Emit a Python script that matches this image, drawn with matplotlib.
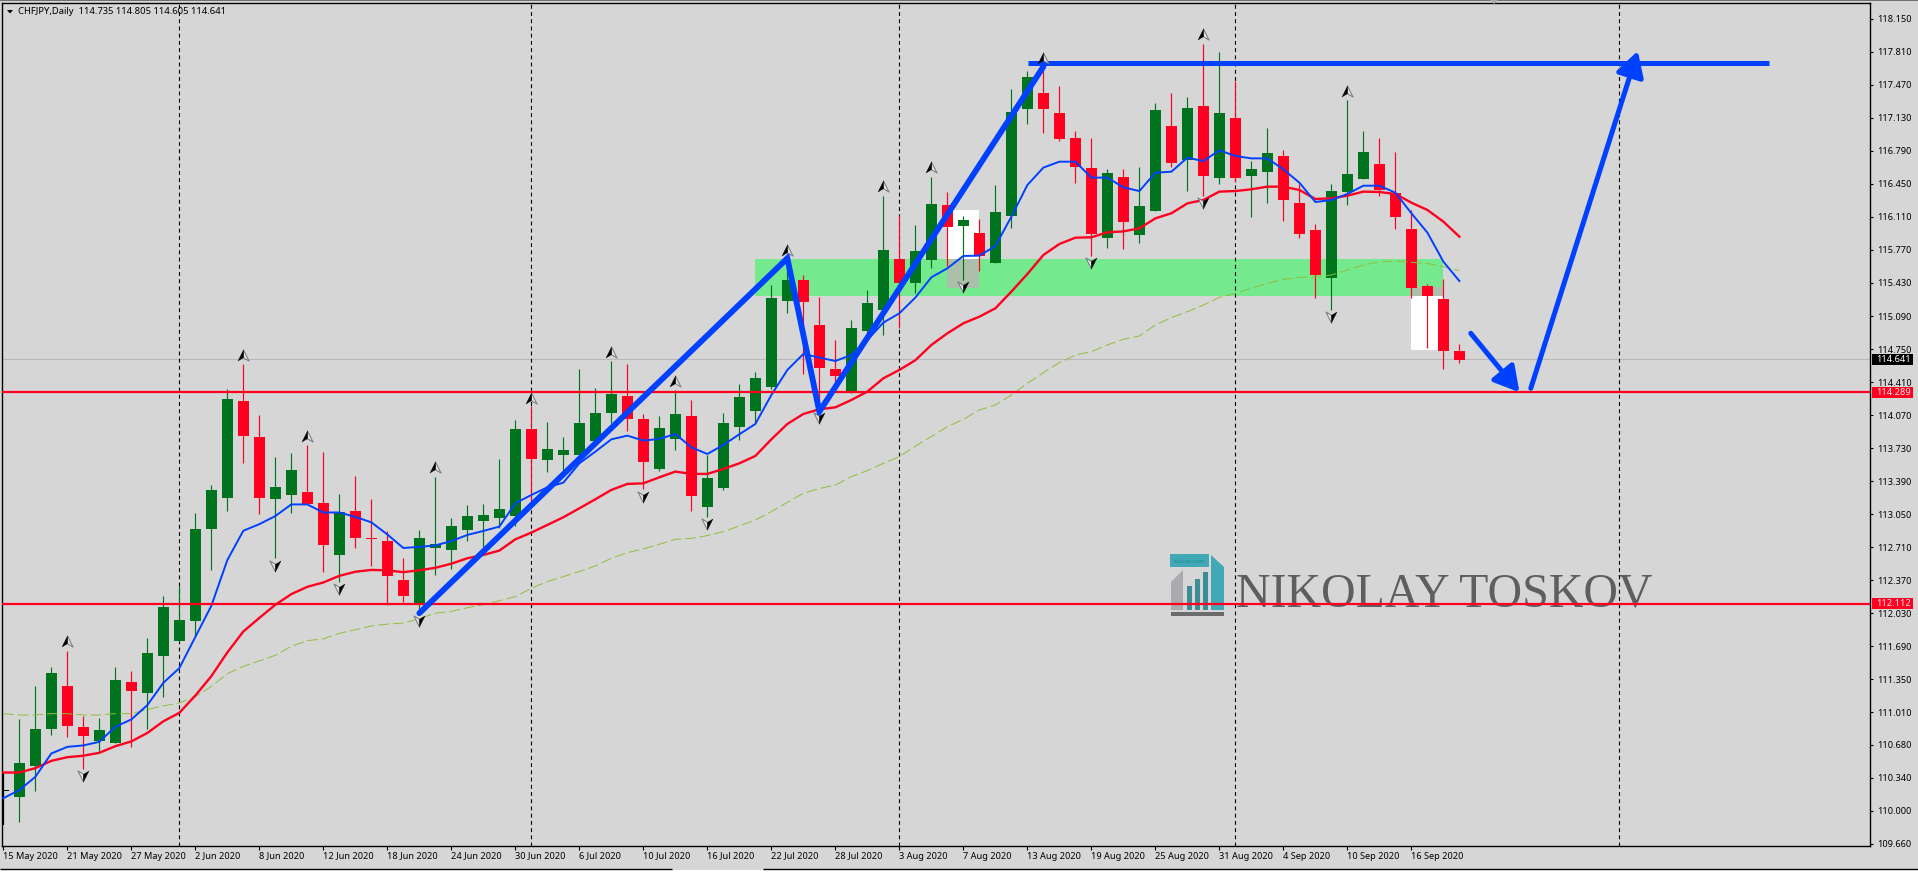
import matplotlib
matplotlib.use("Agg")
import matplotlib.pyplot as plt
from matplotlib.path import Path
from matplotlib.patches import Polygon, Rectangle

opens = [110.212, 110.143, 110.460, 110.844, 111.278, 110.863, 110.720, 110.697, 111.327, 111.214, 111.591, 111.741,
         111.949, 112.899, 113.219, 114.211, 113.849, 113.208, 113.249, 113.279, 113.166, 112.631, 113.083, 112.805,
         112.774, 112.371, 112.115, 112.703, 112.680, 112.888, 112.981, 113.012, 113.032, 113.928, 113.608, 113.660,
         113.660, 113.804, 114.092, 114.267, 114.030, 113.516, 113.825, 114.061, 113.125, 113.320, 113.948, 114.113,
         114.360, 115.245, 115.461, 114.998, 114.545, 114.301, 114.936, 115.152, 115.677, 115.430, 115.666, 116.232,
         116.016, 115.944, 115.635, 116.119, 117.220, 117.385, 117.179, 116.922, 116.613, 115.893, 116.520, 115.924,
         116.171, 117.045, 116.695, 117.251, 116.510, 117.128, 116.531, 116.572, 116.737, 116.253, 115.975, 115.481,
         116.366, 116.500, 116.654, 116.356, 115.985, 115.399, 115.265, 114.735]
highs = [110.400, 110.946, 111.285, 111.481, 111.647, 110.976, 110.957, 111.481, 111.440, 111.772, 112.205, 112.311,
         113.065, 113.355, 114.335, 114.591, 114.075, 113.641, 113.683, 113.758, 113.694, 113.261, 113.445, 113.208,
         112.876, 112.597, 112.887, 113.434, 113.012, 113.146, 113.156, 113.619, 114.020, 114.164, 113.996, 113.845,
         114.545, 114.349, 114.627, 114.596, 114.082, 114.061, 114.325, 114.226, 113.660, 114.092, 114.391, 114.514,
         115.409, 115.680, 115.512, 115.286, 114.843, 115.049, 115.358, 116.320, 116.130, 116.027, 116.520, 116.363,
         116.119, 116.088, 116.438, 117.426, 117.611, 117.640, 117.457, 116.994, 116.922, 116.603, 116.603, 116.623,
         117.282, 117.385, 117.344, 117.889, 117.807, 117.508, 116.685, 117.025, 116.798, 116.448, 116.037, 116.448,
         117.313, 116.994, 116.922, 116.778, 116.181, 115.419, 115.471, 114.805]
lows = [109.850, 109.883, 110.203, 110.780, 110.761, 110.429, 110.610, 110.697, 110.656, 110.840, 111.172, 111.741,
        111.787, 112.477, 113.083, 113.581, 113.053, 112.597, 113.065, 113.159, 112.454, 112.352, 112.703, 112.518,
        112.115, 112.145, 112.013, 112.428, 112.484, 112.778, 112.717, 112.905, 112.929, 113.180, 113.488, 113.471,
        113.660, 113.804, 113.986, 113.907, 113.314, 113.499, 113.712, 113.084, 113.022, 113.300, 113.814, 113.986,
        114.339, 115.125, 114.494, 114.090, 114.360, 114.300, 114.895, 114.895, 114.963, 115.323, 115.584, 115.600,
        115.461, 115.557, 115.635, 115.996, 117.066, 116.973, 116.891, 116.459, 115.708, 115.790, 115.780, 115.841,
        116.171, 116.623, 116.376, 116.325, 116.448, 116.469, 116.109, 116.253, 116.068, 115.893, 115.275, 115.152,
        116.232, 116.500, 116.325, 115.985, 115.275, 114.761, 114.545, 114.605]
closes = [110.207, 110.490, 110.840, 111.421, 110.867, 110.772, 110.833, 111.349, 111.236, 111.617, 112.092, 111.960,
          112.899, 113.302, 114.241, 113.860, 113.219, 113.332, 113.509, 113.159, 112.733, 113.076, 112.805, 112.795,
          112.412, 112.205, 112.805, 112.744, 112.929, 113.032, 113.043, 113.104, 113.928, 113.619, 113.722, 113.712,
          113.989, 114.092, 114.288, 114.030, 113.588, 113.938, 114.082, 113.238, 113.423, 113.989, 114.257, 114.452,
          115.276, 115.461, 115.234, 114.555, 114.473, 114.967, 115.224, 115.769, 115.430, 115.759, 116.243, 116.006,
          116.078, 115.708, 116.160, 117.189, 117.549, 117.220, 116.911, 116.623, 115.934, 116.562, 116.057, 116.222,
          117.210, 116.665, 117.230, 116.531, 117.179, 116.510, 116.603, 116.767, 116.284, 115.934, 115.512, 116.376,
          116.551, 116.778, 116.387, 116.109, 115.378, 115.296, 114.730, 114.641]

fast_ma = [110.128, 110.211, 110.347, 110.588, 110.656, 110.671, 110.708, 110.863, 110.938, 111.085, 111.315, 111.466,
           111.787, 112.107, 112.578, 112.880, 112.948, 113.031, 113.151, 113.151, 113.068, 113.068, 113.023, 112.967,
           112.842, 112.703, 112.714, 112.729, 112.774, 112.837, 112.878, 112.923, 113.163, 113.248, 113.327, 113.375,
           113.574, 113.694, 113.821, 113.859, 113.808, 113.825, 113.876, 113.739, 113.670, 113.763, 113.873, 113.979,
           114.277, 114.535, 114.699, 114.662, 114.627, 114.689, 114.843, 115.022, 115.118, 115.280, 115.488, 115.581,
           115.708, 115.711, 115.810, 116.112, 116.438, 116.617, 116.678, 116.678, 116.514, 116.514, 116.414, 116.376,
           116.565, 116.575, 116.719, 116.685, 116.795, 116.737, 116.712, 116.712, 116.599, 116.462, 116.263, 116.284,
           116.346, 116.431, 116.431, 116.359, 116.147, 115.948, 115.649, 115.450]
mid_ma = [110.392, 110.392, 110.437, 110.512, 110.550, 110.565, 110.595, 110.663, 110.712, 110.799, 110.919, 111.006,
          111.184, 111.383, 111.628, 111.843, 111.983, 112.118, 112.228, 112.303, 112.348, 112.416, 112.458, 112.477,
          112.473, 112.454, 112.473, 112.499, 112.541, 112.597, 112.631, 112.676, 112.792, 112.861, 112.940, 113.019,
          113.111, 113.204, 113.300, 113.362, 113.368, 113.430, 113.489, 113.465, 113.465, 113.516, 113.574, 113.650,
          113.821, 113.979, 114.082, 114.130, 114.150, 114.226, 114.312, 114.449, 114.535, 114.635, 114.792, 114.912,
          115.015, 115.083, 115.169, 115.341, 115.522, 115.718, 115.831, 115.896, 115.900, 115.951, 115.961, 115.992,
          116.095, 116.147, 116.249, 116.284, 116.370, 116.376, 116.394, 116.421, 116.421, 116.387, 116.294, 116.301,
          116.328, 116.370, 116.366, 116.346, 116.256, 116.181, 116.061, 115.906]
slow_ma = [110.998, 110.984, 110.984, 110.998, 110.998, 110.984, 110.984, 110.998, 110.998, 111.040, 111.078, 111.108,
           111.172, 111.278, 111.409, 111.485, 111.541, 111.598, 111.692, 111.749, 111.768, 111.824, 111.862, 111.900,
           111.919, 111.930, 111.975, 112.032, 112.051, 112.088, 112.120, 112.160, 112.202, 112.288, 112.357, 112.408,
           112.460, 112.518, 112.597, 112.655, 112.693, 112.741, 112.792, 112.802, 112.830, 112.871, 112.929, 112.991,
           113.077, 113.173, 113.266, 113.314, 113.351, 113.437, 113.499, 113.574, 113.643, 113.750, 113.850, 113.951,
           114.027, 114.123, 114.174, 114.277, 114.397, 114.507, 114.610, 114.689, 114.723, 114.792, 114.850, 114.884,
           114.998, 115.073, 115.135, 115.203, 115.282, 115.323, 115.375, 115.426, 115.467, 115.488, 115.491, 115.512,
           115.563, 115.615, 115.646, 115.656, 115.642, 115.632, 115.598, 115.557]

up_bars = [4, 15, 19, 27, 33, 38, 42, 49, 55, 58, 65, 75, 84]
up_prices = [111.749, 114.689, 113.853, 113.532, 114.243, 114.723, 114.425, 115.769, 116.428, 116.620, 117.742,
             117.992, 117.409]
down_bars = [5, 17, 21, 26, 40, 44, 51, 60, 68, 75, 83]
down_prices = [110.354, 112.522, 112.277, 111.956, 113.231, 112.950, 114.037, 115.392, 115.632, 116.249, 115.083]

date_labels = ["15 May 2020", "21 May 2020", "27 May 2020", "2 Jun 2020", "8 Jun 2020", "12 Jun 2020", "18 Jun 2020",
               "24 Jun 2020", "30 Jun 2020", "6 Jul 2020", "10 Jul 2020", "16 Jul 2020", "22 Jul 2020", "28 Jul 2020",
               "3 Aug 2020", "7 Aug 2020", "13 Aug 2020", "19 Aug 2020", "25 Aug 2020", "31 Aug 2020", "4 Sep 2020",
               "10 Sep 2020", "16 Sep 2020"]
price_ticks = [118.150, 117.810, 117.470, 117.130, 116.790, 116.450, 116.110, 115.770, 115.430, 115.090, 114.750,
               114.410, 114.070, 113.730, 113.390, 113.050, 112.710, 112.370, 112.030, 111.690, 111.350, 111.010,
               110.680, 110.340, 110.000, 109.660]
separator_bars = [11, 33, 56, 77, 101]

level_prices = [114.303, 112.131]
level_labels = ["114.289", "112.112"]
last_line_price = 114.644
last_label = "114.641"
header = "CHFJPY,Daily  114.735 114.805 114.605 114.641"

trend_bars = [26, 49, 51, 65]
trend_prices = [112.032, 115.684, 114.106, 117.656]
resistance_bars = [64.04, 110.36]
resistance_price = 117.691
zone_bars = [47, 90]
zone_prices = [115.296, 115.677]
box_bars = [[59, 61], [88, 90]]
box_prices = [[115.381, 116.181], [114.740, 115.392]]
small_arrow_bars = [91.71, 94.75]
small_arrow_prices = [114.912, 114.305]
big_arrow_bars = [95.46, 102.15]
big_arrow_prices = [114.346, 117.817]

BACKGROUND = "#D6D6D6"
BULL = "#00731E"
BEAR = "#FF0020"
BLUE = "#0040FF"
FONT = "Noto Sans"
WIDTH, HEIGHT = 1918, 872


def pixel_axes(fig, zorder):
    # overlay in image pixels for the terminal's window furniture
    overlay = fig.add_axes([0, 0, 1, 1], zorder=zorder)
    overlay.set_xlim(0, WIDTH)
    overlay.set_ylim(HEIGHT, 0)
    overlay.axis("off")
    overlay.patch.set_alpha(0)
    return overlay


def draw_logo(fig):
    logo = pixel_axes(fig, 0)
    teal = "#41A9B6"
    logo.add_patch(Rectangle((1170, 554), 39, 13, color=teal, lw=0))
    logo.add_patch(Polygon([(1211, 555), (1224, 567), (1224, 610), (1211, 610)], color=teal, lw=0))
    logo.add_patch(Polygon([(1171, 582), (1183, 570), (1183, 610), (1171, 610)], color="#ABABAF", lw=0))
    for left, top in [(1187, 586), (1195, 579), (1203, 572)]:
        logo.add_patch(Rectangle((left, top), 4.5, 610 - top, color="#3E8C96", lw=0))
    logo.add_patch(Rectangle((1171, 612), 53, 4, color="#6B6B6B", lw=0))
    logo.text(1189.5, 561, "toskov.com", fontsize=4.2, color="#1F8A98", ha="center", va="center", family=FONT)
    logo.text(1236, 606, "NIKOLAY TOSKOV", fontsize=34.5, color="#5E5E5E", ha="left", va="baseline",
              family="Liberation Serif")


def draw_candles(ax):
    bars = range(len(opens))
    for bar, o, h, l, c in zip(bars, opens, highs, lows, closes):
        color = "black" if bar == 0 else (BULL if c >= o else BEAR)
        ax.vlines(bar, l, h, color=color, lw=1.6 if bar == 0 else 0.85, zorder=3)
        ax.bar(bar, abs(c - o), bottom=min(o, c), width=0.69, color=color, lw=0, zorder=3, antialiased=False)


def draw_markers(ax):
    up_dark = Path([(-1, -1), (0, 1), (0, -0.4), (-1, -1)], closed=True)
    up_light = Path([(1, -1), (0, 1), (0, -0.4), (1, -1)], closed=True)
    down_dark = Path([(1, 1), (0, -1), (0, 0.4), (1, 1)], closed=True)
    down_light = Path([(-1, 1), (0, -1), (0, 0.4), (-1, 1)], closed=True)
    for bars, prices, dark, light in [(up_bars, up_prices, up_dark, up_light),
                                      (down_bars, down_prices, down_dark, down_light)]:
        ax.plot(bars, prices, ls="none", marker=light, ms=8, mfc="#E4E4E4", mec="#707880", mew=0.7, zorder=7)
        ax.plot(bars, prices, ls="none", marker=dark, ms=8, mfc="black", mec="black", mew=0.2, zorder=7)


def draw_objects(ax):
    zone = Rectangle((zone_bars[0], zone_prices[0]), zone_bars[1] - zone_bars[0], zone_prices[1] - zone_prices[0],
                     color="#74E98D", lw=0, zorder=1.1)
    ax.add_patch(zone)
    for (x0, x1), (p0, p1) in zip(box_bars, box_prices):
        ax.add_patch(Rectangle((x0, p0), x1 - x0, p1 - p0, color="white", lw=0, zorder=1))
        # the terminal inverts the colours where a box crosses the zone
        low = max(p0, zone_prices[0])
        high = min(p1, zone_prices[1])
        ax.add_patch(Rectangle((x0, low), x1 - x0, high - low, color="#ABBFAB", lw=0, zorder=1.2))

    for bar in separator_bars:
        ax.axvline(bar, color="black", lw=0.8, ls=(0, (3.5, 3)), zorder=2)
    ax.axhline(last_line_price, color="#B8B8B8", lw=0.8, zorder=1.5)

    ax.plot(range(len(slow_ma)), slow_ma, color="#8FBF3A", lw=0.7, ls=(0, (11, 4)), zorder=4)
    ax.plot(range(len(mid_ma)), mid_ma, color=BEAR, lw=1.7, zorder=4)
    ax.plot(range(len(fast_ma)), fast_ma, color=BLUE, lw=1.4, zorder=4)

    for level in level_prices:
        ax.axhline(level, color=BEAR, lw=1.6, zorder=4.5)

    ax.plot(trend_bars, trend_prices, color=BLUE, lw=4.2, solid_joinstyle="miter", solid_capstyle="round", zorder=5)
    ax.plot(resistance_bars, [resistance_price, resistance_price], color=BLUE, lw=3.6, solid_capstyle="butt",
            zorder=5)

    for xs, ys in [(small_arrow_bars, small_arrow_prices), (big_arrow_bars, big_arrow_prices)]:
        ax.annotate("", xy=(xs[1], ys[1]), xytext=(xs[0], ys[0]), zorder=5,
                    arrowprops=dict(arrowstyle="-|>,head_length=1.5,head_width=0.85", color=BLUE, lw=3.6,
                                    shrinkA=0, shrinkB=0, mutation_scale=10))


def draw_furniture(fig):
    chrome = pixel_axes(fig, 10)
    chrome.add_patch(Rectangle((0, 0), WIDTH, 1.2, color="#707070", lw=0))
    chrome.add_patch(Polygon([(1490, 0), (1498, 0), (1494, 4)], color="#A8A8A8", lw=0))
    chrome.add_patch(Polygon([(7, 10), (13, 10), (10, 13.5)], color="black", lw=0))
    chrome.text(18, 11.5, header, fontsize=6.8, color="black", ha="left", va="center", family=FONT)

    for label, y in zip(level_labels, [392.5, 603.5]):
        chrome.add_patch(Rectangle((1872, y - 5.5), 41, 11, color=BEAR, lw=0))
        chrome.text(1876, y, label, fontsize=6.6, color="#FFE8E8", ha="left", va="center", family=FONT)
    chrome.add_patch(Rectangle((1872, 354), 41, 11, color="black", lw=0))
    chrome.text(1876, 359.5, last_label, fontsize=6.6, color="white", ha="left", va="center", family=FONT)

    chrome.add_patch(Rectangle((0, 869.5), WIDTH, 2.5, color="white", lw=0))
    for left, right in [(0, 672), (763, WIDTH)]:
        chrome.plot([left, right], [869, 869], color="black", lw=1.0, solid_capstyle="butt")


def make_chart():
    fig = plt.figure(figsize=(WIDTH / 100, HEIGHT / 100), dpi=100, facecolor=BACKGROUND)
    draw_logo(fig)

    ax = fig.add_axes([2 / WIDTH, (HEIGHT - 846) / HEIGHT, 1868 / WIDTH, 843 / HEIGHT], zorder=5)
    ax.patch.set_alpha(0)
    ax.set_xlim(-0.081, 116.66)
    ax.set_ylim(109.636, 118.311)

    draw_objects(ax)
    draw_candles(ax)
    draw_markers(ax)

    ax.yaxis.tick_right()
    ax.set_yticks(price_ticks)
    ax.set_yticklabels([f"{tick:.3f}" for tick in price_ticks], fontsize=6.6, family=FONT)
    ax.tick_params(axis="y", length=2, width=0.8, pad=3)
    ax.set_xticks(range(0, 4 * len(date_labels), 4))
    ax.set_xticklabels(date_labels, fontsize=6.6, family=FONT, ha="left")
    ax.tick_params(axis="x", length=3, width=0.8, pad=1)
    for spine in ax.spines.values():
        spine.set_linewidth(1.0)

    draw_furniture(fig)
    fig.savefig("out.png", dpi=100, facecolor=BACKGROUND)


if __name__ == "__main__":
    make_chart()
